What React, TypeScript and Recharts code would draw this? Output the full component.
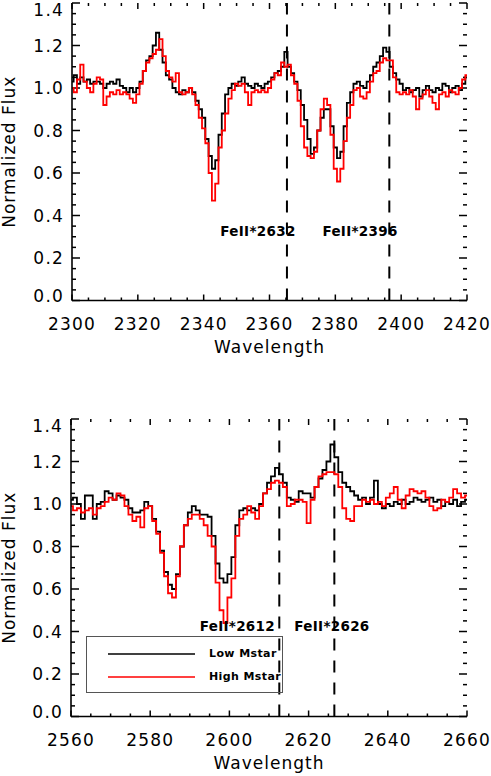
import React from "react";
import { LineChart, Line, XAxis, YAxis, ReferenceLine, ReferenceDot } from "recharts";

// 1 A bins, starting wavelength of each panel
const topWaveStart = 2300;
const topLowMstar = [
  1.03, 1.06, 1.02, 1.05, 1.03, 1.04, 1.02, 1.03, 1.03, 1.02,
  1.00, 1.02, 1.03, 1.02, 1.04, 1.01, 1.00, 0.98, 1.00, 0.98,
  1.00, 1.03, 1.08, 1.13, 1.15, 1.20, 1.26, 1.18, 1.12, 1.06,
  1.04, 1.00, 0.98, 0.97, 0.99, 0.98, 1.00, 0.98, 0.94, 0.90,
  0.86, 0.76, 0.68, 0.62, 0.66, 0.78, 0.88, 0.97, 1.00, 1.02,
  1.01, 1.03, 1.05, 1.02, 1.01, 1.00, 1.02, 1.01, 1.00, 1.02,
  1.03, 1.05, 1.07, 1.08, 1.10, 1.17, 1.10, 1.07, 1.03, 0.99,
  0.92, 0.85, 0.76, 0.69, 0.72, 0.80, 0.86, 0.90, 0.90, 0.82,
  0.72, 0.67, 0.70, 0.82, 0.93, 0.98, 1.02, 1.03, 1.01, 1.00,
  1.03, 1.06, 1.10, 1.12, 1.15, 1.19, 1.17, 1.10, 1.07, 1.04,
  1.02, 0.99, 1.00, 0.98, 0.99, 1.00, 0.96, 0.99, 1.01, 0.99,
  0.98, 1.00, 0.99, 1.02, 1.01, 0.98, 1.00, 1.01, 0.99, 1.02,
  1.05,
];
const topHighMstar = [
  1.00, 0.98, 1.04, 1.11, 1.03, 1.00, 0.98, 1.02, 1.05, 1.04,
  0.92, 0.96, 0.98, 0.97, 0.99, 0.97, 0.98, 0.97, 0.95, 0.93,
  0.97, 1.02, 1.08, 1.12, 1.14, 1.16, 1.18, 1.23, 1.15, 1.08,
  1.05, 1.03, 1.07, 0.98, 0.97, 0.98, 1.00, 0.97, 0.92, 0.86,
  0.81, 0.74, 0.60, 0.47, 0.55, 0.72, 0.80, 0.88, 0.95, 0.99,
  1.02, 1.01, 1.02, 0.98, 0.92, 0.98, 0.99, 0.98, 0.99, 0.98,
  1.00, 1.04, 1.07, 1.06, 1.12, 1.10, 1.11, 1.06, 1.02, 0.94,
  0.82, 0.72, 0.68, 0.67, 0.70, 0.80, 0.90, 0.95, 0.92, 0.78,
  0.62, 0.56, 0.62, 0.75, 0.86, 0.92, 0.99, 1.00, 0.96, 0.95,
  0.98, 1.03, 1.07, 1.08, 1.12, 1.14, 1.13, 1.13, 1.05, 0.98,
  0.97, 0.98, 0.97, 0.99, 0.96, 0.90, 0.95, 0.97, 0.99, 0.96,
  0.93, 0.90, 0.97, 0.98, 0.96, 0.99, 0.98, 0.97, 1.00, 1.04,
  1.06,
];

const bottomWaveStart = 2560;
const bottomLowMstar = [
  1.02, 1.03, 1.00, 0.93, 1.04, 1.04, 0.93, 1.00, 1.01, 1.06,
  1.05, 1.02, 1.04, 1.03, 1.02, 0.98, 0.96, 0.96, 0.97, 1.01,
  0.99, 0.93, 0.87, 0.78, 0.68, 0.62, 0.60, 0.67, 0.80, 0.90,
  0.96, 0.99, 0.97, 0.95, 0.95, 0.94, 0.85, 0.72, 0.65, 0.63,
  0.67, 0.75, 0.90, 0.97, 0.98, 0.97, 0.98, 0.97, 1.00, 1.05,
  1.10, 1.13, 1.17, 1.14, 1.10, 1.03, 1.02, 1.01, 1.06, 1.05,
  1.05, 1.03, 1.08, 1.12, 1.16, 1.20, 1.28, 1.22, 1.15, 1.10,
  1.08, 1.06, 1.04, 1.02, 1.03, 1.00, 1.03, 1.11, 1.00, 0.98,
  1.00, 0.99, 1.01, 1.00, 1.02, 1.00, 1.01, 1.03, 1.02, 1.01,
  1.02, 1.03, 1.01, 1.02, 0.99, 1.01, 1.00, 1.02, 0.99, 1.01,
  1.02,
];
const bottomHighMstar = [
  0.99, 0.97, 0.98, 0.96, 0.97, 0.98, 0.95, 0.98, 0.99, 1.01,
  1.03, 1.02, 1.05, 1.04, 0.99, 0.95, 0.92, 0.94, 0.89, 0.98,
  0.99, 0.92, 0.86, 0.77, 0.66, 0.58, 0.56, 0.66, 0.80, 0.90,
  0.93, 0.95, 0.95, 0.93, 0.90, 0.85, 0.80, 0.63, 0.50, 0.44,
  0.56, 0.65, 0.85, 0.93, 0.95, 0.99, 0.96, 0.93, 0.99, 1.05,
  1.07, 1.10, 1.11, 1.10, 1.08, 0.99, 1.00, 1.02, 1.02, 1.01,
  0.91, 1.02, 1.08, 1.13, 1.14, 1.15, 1.15, 1.14, 1.08, 0.98,
  0.93, 0.92, 0.99, 0.99, 1.02, 1.01, 1.02, 1.00, 1.01, 0.99,
  1.03, 1.05, 1.08, 1.02, 0.98, 1.04, 1.07, 1.06, 1.05, 1.06,
  1.03, 0.99, 0.97, 0.98, 1.02, 1.01, 1.03, 1.07, 1.05, 1.03,
  1.04,
];

const topXLabels = [2300, 2320, 2340, 2360, 2380, 2400, 2420];
const bottomXLabels = [2560, 2580, 2600, 2620, 2640, 2660];
const yLabels = [0, 0.2, 0.4, 0.6, 0.8, 1.0, 1.2, 1.4];
const yRange = [0, 1.4];

// line positions and where their names sit (wavelength, flux)
const topLineWaves = [2365.3, 2396.4];
const topLineNames = ["FeII*2632", "FeII*2396"];
const topNameWaves = [2356.5, 2387.5];
const topNameFlux = 0.327;
const bottomLineWaves = [2612.6, 2626.5];
const bottomLineNames = ["FeII*2612", "FeII*2626"];
const bottomNameWaves = [2602, 2625.9];
const bottomNameFlux = 0.426;

const seriesNames = ["Low Mstar", "High Mstar"];

const FONT = "DejaVu Sans";
const AX = 1.6;
const PLOT_H = 297.5;

function isMajor(v: number, step: number) {
  const r = v / step;
  return Math.abs(r - Math.round(r)) < 1e-6;
}

function XLabelTick(props: any) {
  const x = Number(props.x);
  const y = Number(props.y);
  return (
    <text x={x} y={y + 29} textAnchor="middle" fontFamily={FONT} fontSize={17} letterSpacing={1.2} fill="#000">
      {props.payload.value}
    </text>
  );
}

function YLabelTick(props: any) {
  const x = Number(props.x);
  const y = Number(props.y);
  const v = Number(props.payload.value);
  // end labels are nudged inside the frame, as in the original
  let ly = y + 6;
  if (v >= 1.4 - 1e-6) ly += 7;
  if (v <= 1e-6) ly -= 5;
  return (
    <text x={x - 8} y={ly} textAnchor="end" fontFamily={FONT} fontSize={17} letterSpacing={1.2} fill="#000">
      {v.toFixed(1)}
    </text>
  );
}

function NameLabel(text: string) {
  return (props: any) => {
    const vb = props.viewBox || {};
    const cx = vb.x + (vb.width || 0) / 2;
    const cy = vb.y + (vb.height || 0) / 2;
    return (
      <text x={cx} y={cy + 5} textAnchor="middle" fontFamily={FONT} fontSize={13.5} fontWeight="bold" letterSpacing={0.3} fill="#000">
        {text}
      </text>
    );
  };
}

interface PanelProps {
  waveStart: number;
  low: number[];
  high: number[];
  xLabels: number[];
  lineWaves: number[];
  lineNames: string[];
  nameWaves: number[];
  nameFlux: number;
  top: number;
  left: number;
}

function Panel({ waveStart, low, high, xLabels, lineWaves, lineNames, nameWaves, nameFlux, top, left }: PanelProps) {
  const data = low.map((v, i) => ({ wave: waveStart + i, low: v, high: high[i] }));
  const xMin = xLabels[0];
  const xMax = xLabels[xLabels.length - 1];
  const plotW = 491 - 24 - left;
  const perFlux = PLOT_H / (yRange[1] - yRange[0]);
  const perWave = plotW / (xMax - xMin);

  // inward tick marks on all four sides (IDL style), minor every 5 A / 0.05
  const segs: { x1: number; y1: number; x2: number; y2: number }[] = [];
  for (let t = xMin; t <= xMax + 1e-6; t += 5) {
    const h = (xLabels.includes(t) ? 6 : 3) / perFlux;
    segs.push({ x1: t, y1: yRange[0], x2: t, y2: yRange[0] + h });
    segs.push({ x1: t, y1: yRange[1], x2: t, y2: yRange[1] - h });
  }
  for (let k = 0; k <= 28; k++) {
    const v = +(k * 0.05).toFixed(2);
    const w = (isMajor(v, 0.2) ? 8 : 4) / perWave;
    segs.push({ x1: xMin, y1: v, x2: xMin + w, y2: v });
    segs.push({ x1: xMax, y1: v, x2: xMax - w, y2: v });
  }

  return (
    <LineChart
      width={491}
      height={360}
      data={data}
      margin={{ top, right: 24, bottom: 0, left: left - 60 }}
      style={{ position: "absolute", left: 0, top: 0 }}
    >
      <XAxis
        dataKey="wave"
        type="number"
        domain={[xMin, xMax]}
        allowDataOverflow
        ticks={xLabels}
        interval={0}
        tickSize={0}
        tickMargin={0}
        height={360 - top - PLOT_H}
        axisLine={{ stroke: "#000", strokeWidth: AX }}
        tick={(p: any) => <XLabelTick {...p} />}
        label={{ value: "Wavelength", position: "insideBottom", offset: 7, fontFamily: FONT, fontSize: 17, letterSpacing: 1, fill: "#000" }}
      />
      <XAxis
        xAxisId="t"
        dataKey="wave"
        type="number"
        orientation="top"
        domain={[xMin, xMax]}
        allowDataOverflow
        tick={false}
        tickLine={false}
        height={0}
        axisLine={{ stroke: "#000", strokeWidth: AX }}
      />
      <YAxis
        type="number"
        domain={yRange}
        allowDataOverflow
        ticks={yLabels}
        interval={0}
        tickSize={0}
        tickMargin={0}
        width={60}
        axisLine={{ stroke: "#000", strokeWidth: AX }}
        tick={(p: any) => <YLabelTick {...p} />}
        label={{
          content: (lp: any) => {
            const vb = lp.viewBox || { y: 0, height: 0 };
            const cy = vb.y + vb.height / 2;
            return (
              <text x={9} y={cy} transform={`rotate(-90 9 ${cy})`} textAnchor="middle" dominantBaseline="central" fontFamily={FONT} fontSize={17} letterSpacing={1} fill="#000">
                Normalized Flux
              </text>
            );
          },
        }}
      />
      <YAxis
        yAxisId="r"
        orientation="right"
        type="number"
        domain={yRange}
        allowDataOverflow
        tick={false}
        tickLine={false}
        width={0}
        axisLine={{ stroke: "#000", strokeWidth: AX }}
      />
      {segs.map((s, i) => (
        <ReferenceLine
          key={`tk${i}`}
          segment={[{ x: s.x1, y: s.y1 }, { x: s.x2, y: s.y2 }]}
          stroke="#000"
          strokeWidth={1.5}
          ifOverflow="visible"
        />
      ))}
      {lineWaves.map((w) => (
        <ReferenceLine key={w} x={w} stroke="#000" strokeWidth={2} strokeDasharray="12 10" />
      ))}
      {lineNames.map((n, i) => (
        <ReferenceDot
          key={n}
          x={nameWaves[i]}
          y={nameFlux}
          r={0}
          stroke="none"
          fill="none"
          label={{ content: NameLabel(n) }}
        />
      ))}
      <Line dataKey="low" type="step" stroke="#000" strokeWidth={1.8} dot={false} isAnimationActive={false} />
      <Line dataKey="high" type="step" stroke="#ff0000" strokeWidth={1.8} dot={false} isAnimationActive={false} />
    </LineChart>
  );
}

function LegendBox() {
  return (
    <div
      style={{
        position: "absolute",
        left: 86,
        top: 636,
        width: 197,
        height: 57,
        border: "1px solid #555",
        boxSizing: "border-box",
        fontFamily: FONT,
        fontSize: 11,
        fontWeight: "bold",
        whiteSpace: "nowrap",
      }}
    >
      {seriesNames.map((name, i) => (
        <div key={name} style={{ position: "absolute", left: 0, top: 9 + i * 23, height: 16, width: 195 }}>
          <svg width={195} height={16} style={{ position: "absolute", left: 0, top: 0 }}>
            <line x1={21} x2={108} y1={8} y2={8} stroke={i === 0 ? "#000" : "#ff0000"} strokeWidth={1.6} />
          </svg>
          <span style={{ position: "absolute", left: 122, top: 1, letterSpacing: 0.4 }}>{name}</span>
        </div>
      ))}
    </div>
  );
}

export default function App() {
  return (
    <div style={{ position: "absolute", left: 0, top: 0, width: 491, height: 776, background: "#fff" }}>
      <div style={{ position: "absolute", left: 0, top: 0, width: 491, height: 360 }}>
        <Panel
          waveStart={topWaveStart}
          low={topLowMstar}
          high={topHighMstar}
          xLabels={topXLabels}
          lineWaves={topLineWaves}
          lineNames={topLineNames}
          nameWaves={topNameWaves}
          nameFlux={topNameFlux}
          top={3}
          left={72}
        />
      </div>
      <div style={{ position: "absolute", left: 0, top: 416, width: 491, height: 360 }}>
        <Panel
          waveStart={bottomWaveStart}
          low={bottomLowMstar}
          high={bottomHighMstar}
          xLabels={bottomXLabels}
          lineWaves={bottomLineWaves}
          lineNames={bottomLineNames}
          nameWaves={bottomNameWaves}
          nameFlux={bottomNameFlux}
          top={3}
          left={71}
        />
      </div>
      <LegendBox />
    </div>
  );
}
